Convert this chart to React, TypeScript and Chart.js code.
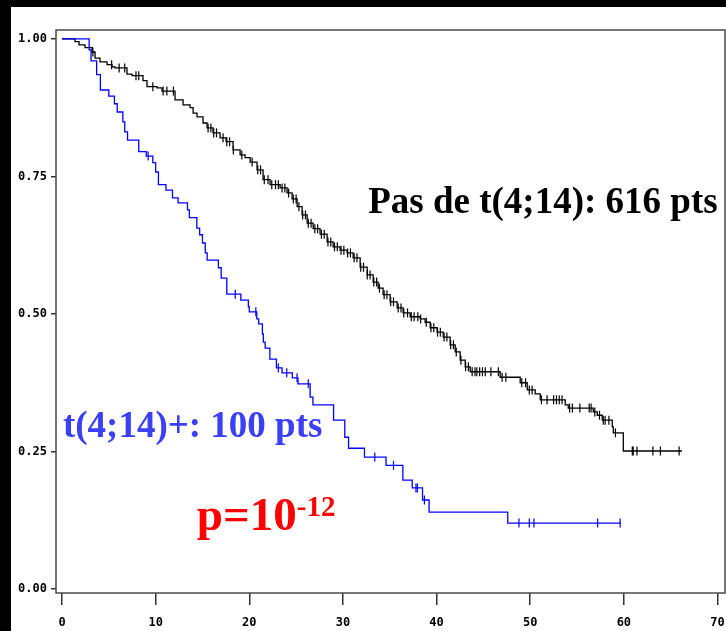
import React, { useEffect, useRef } from "react";
import { Chart, registerables } from "chart.js";

Chart.register(...registerables);

// Axis ticks
const xTickValues = [0, 10, 20, 30, 40, 50, 60, 70];
const yTickValues = [0, 0.25, 0.5, 0.75, 1.0];

// t(4;14)+ group (100 pts) — KM steps (time in months, survival after step)
const t414Times = [0, 2.9, 3.1, 3.7, 4.1, 5.0, 5.6, 5.9, 6.5, 6.7, 7.0, 8.2, 9.0, 9.7, 10.0, 10.3, 11.1, 11.8, 12.4, 13.4, 13.6, 14.4, 14.7, 15.0, 15.3, 15.5, 16.7, 17.0, 17.6, 19.1, 19.9, 20.0, 20.8, 21.0, 21.4, 21.5, 21.7, 22.2, 22.9, 23.5, 24.6, 25.2, 26.5, 26.8, 29.0, 30.2, 30.6, 32.3, 34.6, 36.4, 37.4, 38.5, 39.2, 47.6, 59.7];
const t414Surv = [1.0, 0.98, 0.96, 0.935, 0.907, 0.896, 0.882, 0.867, 0.849, 0.831, 0.816, 0.795, 0.787, 0.775, 0.758, 0.735, 0.725, 0.711, 0.702, 0.689, 0.675, 0.656, 0.644, 0.629, 0.611, 0.598, 0.584, 0.565, 0.536, 0.525, 0.513, 0.504, 0.491, 0.482, 0.464, 0.449, 0.438, 0.418, 0.402, 0.393, 0.384, 0.373, 0.349, 0.335, 0.307, 0.276, 0.256, 0.24, 0.225, 0.198, 0.184, 0.162, 0.14, 0.12, 0.12];
const t414CensorTimes = [9.2, 18.5, 20.7, 23.1, 24.0, 25.1, 26.3, 33.4, 35.4, 37.8, 37.95, 38.7, 48.8, 49.9, 50.4, 57.2, 59.6];
const t414CensorSurv = [0.787, 0.536, 0.504, 0.402, 0.393, 0.384, 0.373, 0.24, 0.225, 0.184, 0.184, 0.162, 0.12, 0.12, 0.12, 0.12, 0.12];

// No t(4;14) group (616 pts)
const noT414Times = [0, 1.39, 1.82, 2.46, 3.21, 3.53, 4.06, 4.81, 5.34, 5.66, 6.94, 7.48, 8.65, 9.08, 10.15, 10.68, 12.07, 12.93, 13.68, 14.0, 14.42, 15.06, 15.49, 16.13, 16.88, 17.52, 18.27, 19.02, 19.55, 20.09, 20.83, 21.47, 22.22, 23.29, 24.04, 24.57, 25.11, 25.64, 26.18, 26.82, 27.56, 28.31, 28.95, 29.7, 30.45, 31.09, 31.84, 32.59, 33.23, 33.76, 34.29, 35.04, 35.79, 36.43, 37.18, 38.25, 38.78, 39.32, 40.06, 40.71, 41.45, 41.99, 42.52, 43.06, 43.59, 46.79, 48.93, 49.68, 50.53, 51.07, 53.74, 54.06, 56.73, 57.16, 57.69, 58.76, 58.87, 59.94, 66.2];
const noT414Surv = [1.0, 0.995, 0.989, 0.984, 0.976, 0.965, 0.958, 0.953, 0.949, 0.947, 0.936, 0.933, 0.924, 0.913, 0.911, 0.905, 0.889, 0.88, 0.875, 0.865, 0.858, 0.847, 0.838, 0.829, 0.82, 0.813, 0.798, 0.789, 0.784, 0.776, 0.762, 0.744, 0.735, 0.729, 0.72, 0.709, 0.695, 0.68, 0.665, 0.655, 0.645, 0.631, 0.622, 0.616, 0.611, 0.602, 0.585, 0.571, 0.558, 0.547, 0.535, 0.522, 0.511, 0.502, 0.495, 0.491, 0.485, 0.475, 0.467, 0.458, 0.444, 0.431, 0.416, 0.404, 0.395, 0.385, 0.375, 0.362, 0.355, 0.344, 0.335, 0.329, 0.322, 0.316, 0.307, 0.295, 0.284, 0.251, 0.251];
const noT414CensorTimes = [3.3, 5.3, 6.1, 6.7, 7.9, 8.2, 9.7, 10.8, 11.2, 11.9, 15.6, 15.9, 16.2, 16.5, 17.2, 17.6, 17.9, 18.3, 19.2, 20.3, 20.9, 21.2, 21.6, 22.0, 22.4, 22.8, 23.1, 23.5, 23.8, 24.2, 24.7, 25.0, 25.3, 25.7, 26.0, 26.3, 26.6, 27.0, 27.3, 27.7, 28.0, 28.4, 28.7, 29.1, 29.4, 29.8, 30.1, 30.5, 30.8, 31.2, 31.5, 31.9, 32.2, 32.6, 32.9, 33.3, 33.6, 33.9, 34.4, 34.7, 35.1, 35.4, 35.9, 36.2, 36.5, 36.9, 37.3, 37.6, 38.0, 38.3, 38.9, 39.4, 39.7, 40.1, 40.4, 40.8, 41.1, 41.5, 41.8, 42.1, 42.6, 43.1, 43.4, 43.8, 44.1, 44.3, 44.6, 44.9, 45.2, 45.8, 46.6, 47.0, 47.4, 49.1, 49.5, 49.9, 50.2, 51.2, 51.8, 52.5, 52.8, 53.1, 53.4, 54.2, 54.5, 55.3, 56.3, 56.5, 56.9, 57.4, 57.8, 58.0, 58.4, 59.1, 60.9, 61.0, 61.4, 63.1, 63.9, 65.9];
const noT414CensorSurv = [0.976, 0.953, 0.947, 0.947, 0.933, 0.933, 0.913, 0.905, 0.905, 0.905, 0.838, 0.838, 0.829, 0.829, 0.82, 0.813, 0.813, 0.798, 0.789, 0.776, 0.762, 0.762, 0.744, 0.744, 0.735, 0.735, 0.735, 0.729, 0.729, 0.72, 0.709, 0.709, 0.695, 0.68, 0.68, 0.665, 0.665, 0.655, 0.655, 0.645, 0.645, 0.631, 0.631, 0.622, 0.622, 0.616, 0.616, 0.611, 0.611, 0.602, 0.602, 0.585, 0.585, 0.571, 0.571, 0.558, 0.558, 0.547, 0.535, 0.535, 0.522, 0.522, 0.511, 0.511, 0.502, 0.502, 0.495, 0.495, 0.495, 0.491, 0.485, 0.475, 0.475, 0.467, 0.467, 0.458, 0.458, 0.444, 0.444, 0.431, 0.416, 0.404, 0.404, 0.395, 0.395, 0.395, 0.395, 0.395, 0.395, 0.395, 0.395, 0.385, 0.385, 0.375, 0.375, 0.362, 0.362, 0.344, 0.344, 0.344, 0.344, 0.344, 0.344, 0.329, 0.329, 0.329, 0.329, 0.329, 0.322, 0.316, 0.307, 0.307, 0.307, 0.284, 0.251, 0.251, 0.251, 0.251, 0.251, 0.251];

// Annotation texts
const labelNoT414 = "Pas de t(4;14): 616 pts";
const labelT414 = "t(4;14)+: 100 pts";
const labelPBase = "p=10";
const labelPExp = "-12";

const toPoints = (xs: number[], ys: number[]) => xs.map((x, i) => ({ x, y: ys[i] }));

const framePlugin = {
  id: "frame",
  afterDraw(chart: any) {
    const { ctx, chartArea } = chart;
    ctx.save();
    ctx.strokeStyle = "#4a4a4a";
    ctx.lineWidth = 1.5;
    ctx.strokeRect(chartArea.left, chartArea.top, chartArea.right - chartArea.left, chartArea.bottom - chartArea.top);
    ctx.restore();
  },
};

const textPlugin = {
  id: "kmText",
  afterDatasetsDraw(chart: any) {
    const { ctx } = chart;
    const xs = chart.scales.x;
    const ys = chart.scales.y;
    ctx.save();
    ctx.textBaseline = "alphabetic";
    ctx.textAlign = "left";
    ctx.font = 'bold 37px "Liberation Serif", "Times New Roman", serif';
    ctx.fillStyle = "#000000";
    ctx.fillText(labelNoT414, xs.getPixelForValue(32.7), ys.getPixelForValue(0.684));
    ctx.fillStyle = "#3b40f5";
    ctx.fillText(labelT414, xs.getPixelForValue(0.1), ys.getPixelForValue(0.276));
    ctx.fillStyle = "#ff0000";
    ctx.font = 'bold 47px "Liberation Serif", "Times New Roman", serif';
    const px = xs.getPixelForValue(14.4);
    const py = ys.getPixelForValue(0.107);
    ctx.fillText(labelPBase, px, py);
    const w = ctx.measureText(labelPBase).width;
    ctx.font = 'bold 29px "Liberation Serif", "Times New Roman", serif';
    ctx.fillText(labelPExp, px + w, py - 14);
    ctx.restore();
  },
};

export default function App() {
  const ref = useRef<HTMLCanvasElement>(null);
  useEffect(() => {
    document.body.style.margin = "0";
    const canvas = ref.current!;
    const tickFont = { family: '"DejaVu Sans Mono", monospace', size: 12, weight: "bold" as const };
    const chart = new Chart(canvas, {
      type: "line",
      data: {
        datasets: [
          {
            label: "t(4;14)+",
            data: toPoints(t414Times, t414Surv),
            stepped: "before",
            borderColor: "#0000ff",
            borderWidth: 1.3,
            pointRadius: 0,
            fill: false,
          },
          {
            label: "t(4;14)+ censored",
            data: toPoints(t414CensorTimes, t414CensorSurv),
            showLine: false,
            pointStyle: "line",
            rotation: 90,
            pointRadius: 4.5,
            borderColor: "#0000ff",
            pointBorderColor: "#0000ff",
            pointBorderWidth: 1.2,
          },
          {
            label: "Pas de t(4;14)",
            data: toPoints(noT414Times, noT414Surv),
            stepped: "before",
            borderColor: "#000000",
            borderWidth: 1.3,
            pointRadius: 0,
            fill: false,
          },
          {
            label: "Pas de t(4;14) censored",
            data: toPoints(noT414CensorTimes, noT414CensorSurv),
            showLine: false,
            pointStyle: "line",
            rotation: 90,
            pointRadius: 4.5,
            borderColor: "#000000",
            pointBorderColor: "#000000",
            pointBorderWidth: 1.2,
          },
        ] as any,
      },
      options: {
        animation: false,
        responsive: false,
        devicePixelRatio: 1,
        events: [],
        layout: { autoPadding: false, padding: { top: 30, right: 1, left: 0, bottom: 0 } },
        plugins: { legend: { display: false }, tooltip: { enabled: false } },
        scales: {
          x: {
            type: "linear",
            min: -0.64,
            max: 70.8,
            afterBuildTicks: (s: any) => {
              s.ticks = xTickValues.map((v) => ({ value: v }));
            },
            afterFit: (s: any) => {
              s.height = 38;
              s.paddingLeft = 0;
              s.paddingRight = 0;
            },
            grid: { drawOnChartArea: false, drawTicks: true, tickLength: 12, color: "#333", lineWidth: 1.5 },
            border: { display: false },
            ticks: {
              padding: 11,
              color: "#000",
              font: tickFont,
              autoSkip: false,
              maxRotation: 0,
              callback: (v: any) => String(v),
            },
          },
          y: {
            type: "linear",
            min: -0.007,
            max: 1.016,
            afterBuildTicks: (s: any) => {
              s.ticks = yTickValues.map((v) => ({ value: v }));
            },
            afterFit: (s: any) => {
              s.width = 56;
              s.paddingTop = 0;
              s.paddingBottom = 0;
            },
            grid: { drawOnChartArea: false, drawTicks: true, tickLength: 5, color: "#333", lineWidth: 1.5 },
            border: { display: false },
            ticks: {
              padding: 4,
              color: "#000",
              font: tickFont,
              autoSkip: false,
              callback: (v: any) => Number(v).toFixed(2),
            },
          },
        },
      },
      plugins: [framePlugin, textPlugin],
    });
    return () => chart.destroy();
  }, []);

  return (
    <div style={{ position: "fixed", left: 0, top: 0, width: 726, height: 631, background: "#000", overflow: "hidden" }}>
      <div style={{ position: "absolute", left: 11, top: 7, right: 0, bottom: 0, background: "#fff" }} />
      <canvas ref={ref} width={726} height={631} style={{ position: "absolute", left: 0, top: 0, display: "block" }} />
    </div>
  );
}
